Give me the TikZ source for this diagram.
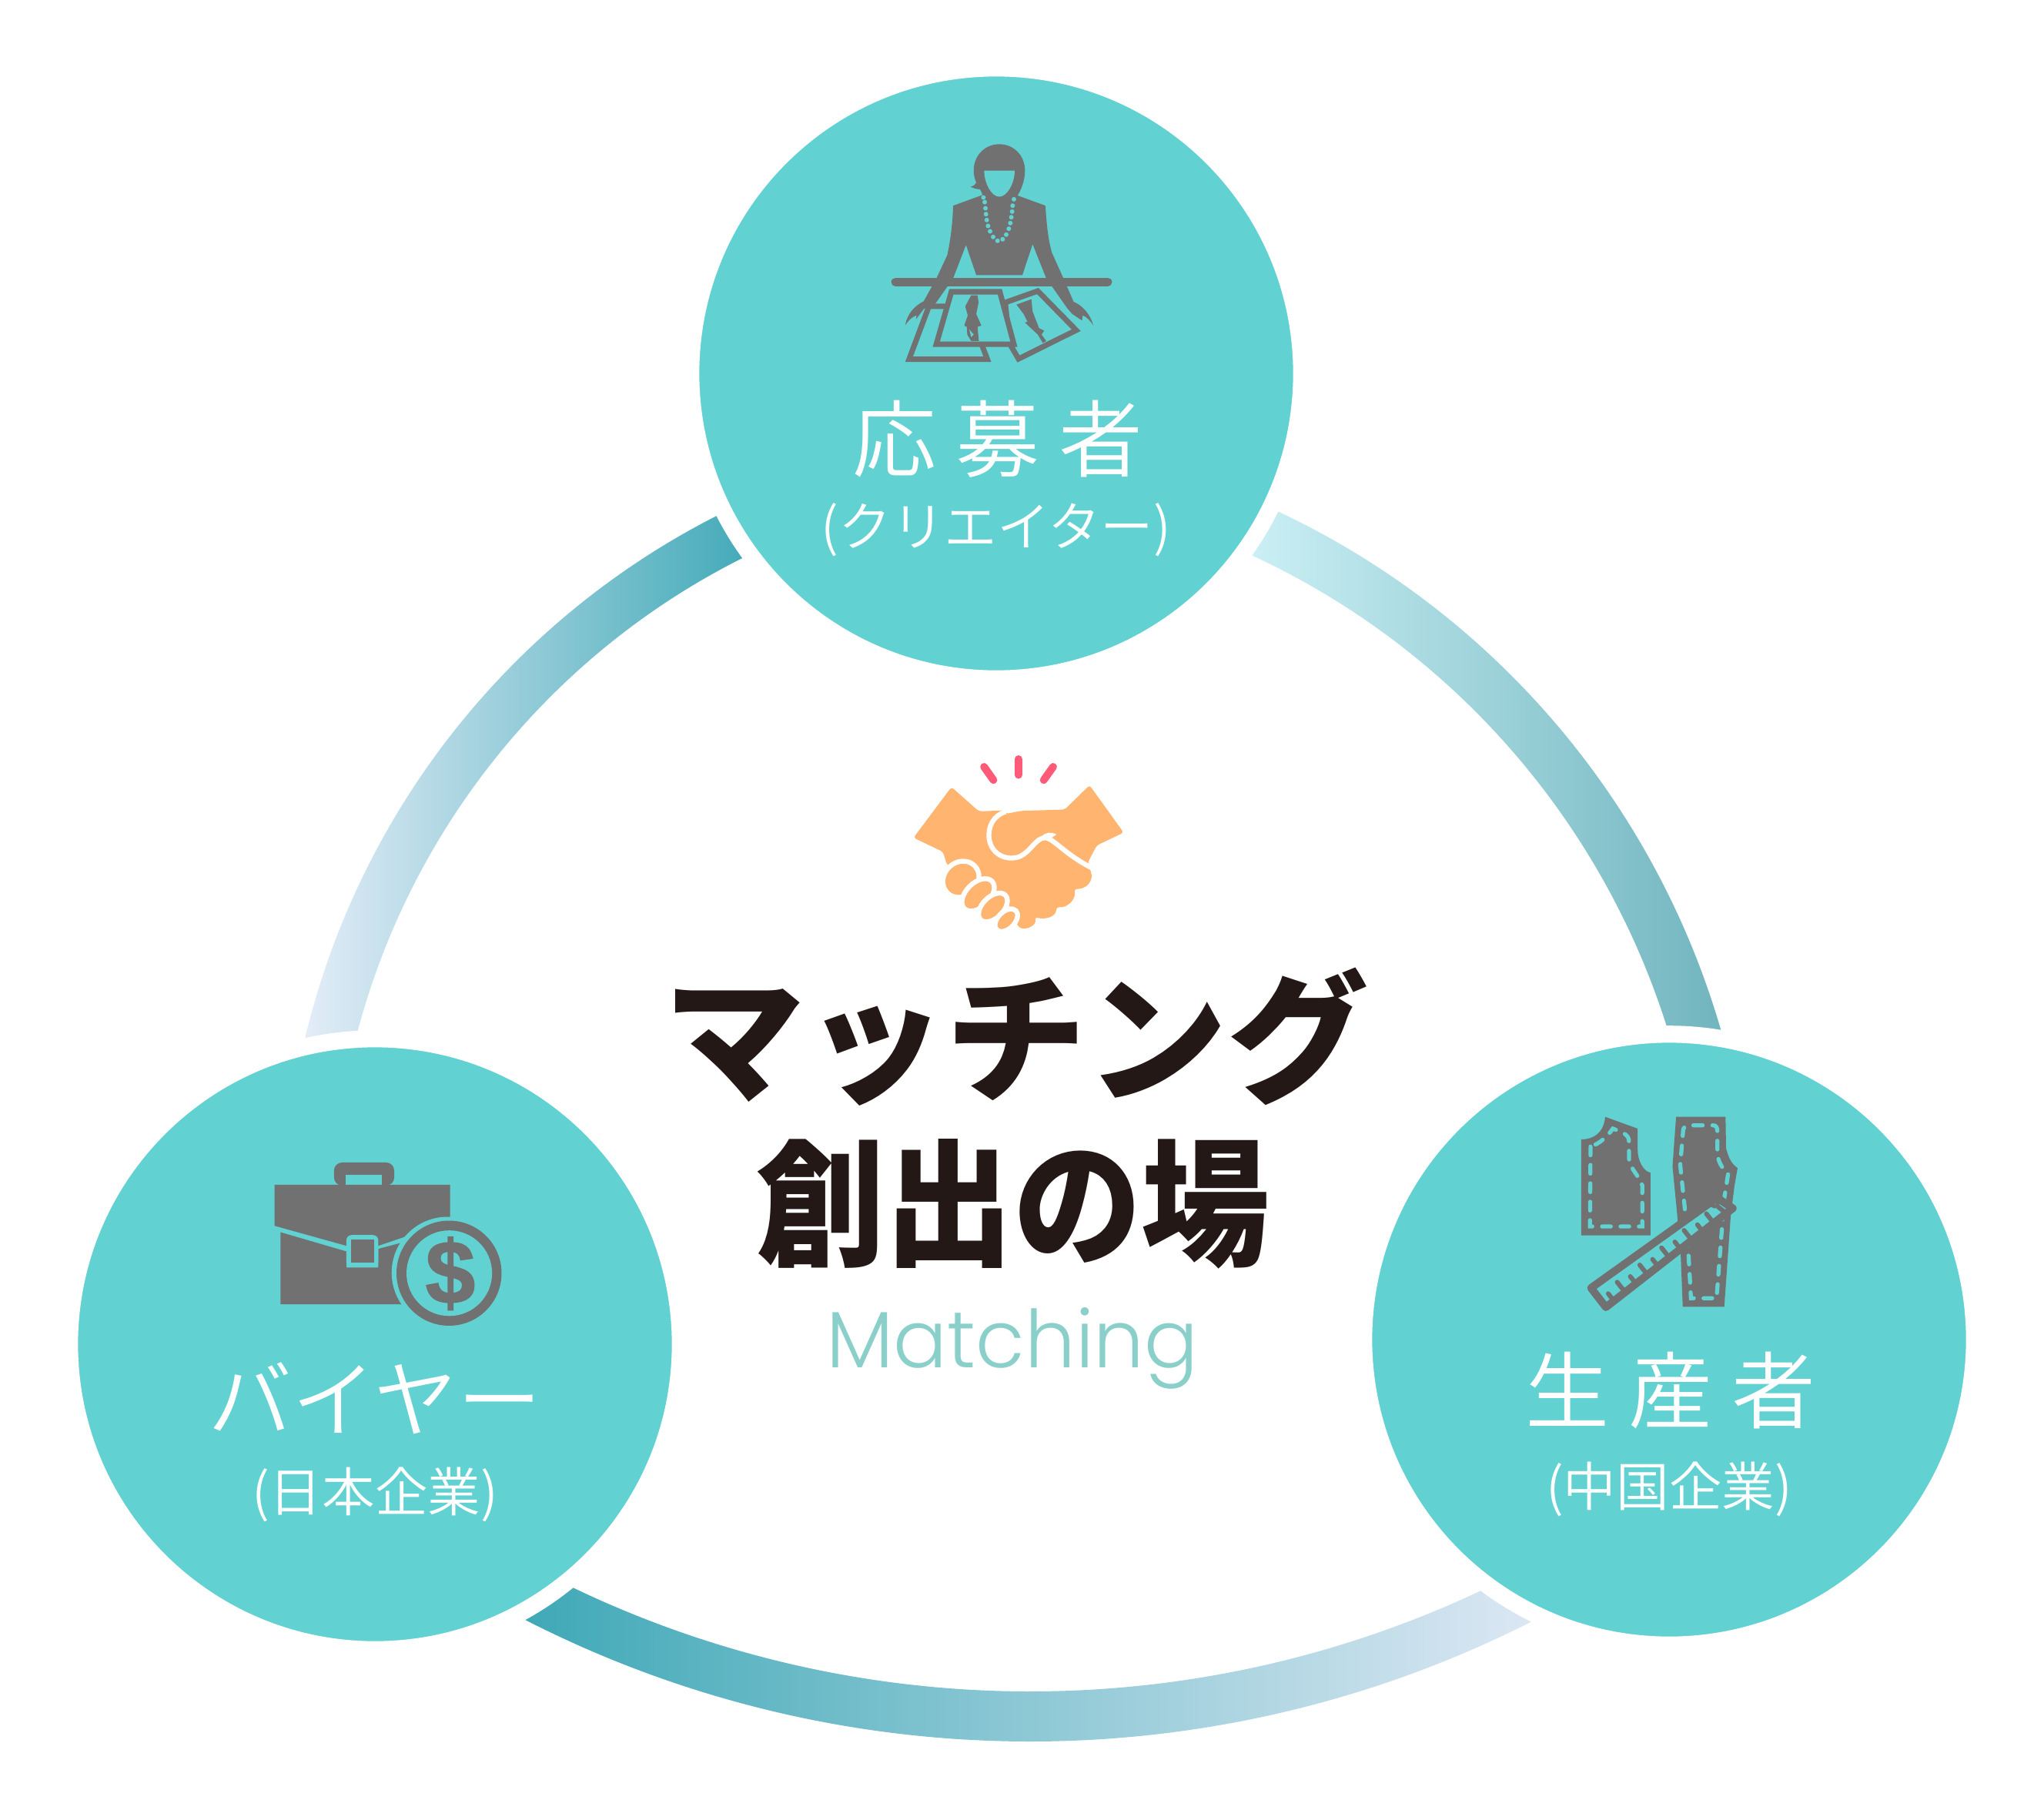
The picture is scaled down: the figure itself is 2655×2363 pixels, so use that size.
\documentclass[tikz,border=0pt]{standalone}
\usepackage{fontspec}
\newfontfamily\cjklabel[LetterSpace=23]{Noto Sans CJK JP DemiLight}
\newfontfamily\cjksmall{Noto Sans CJK JP DemiLight}
\newfontfamily\cjktitle{Noto Sans CJK JP Black}
\newfontfamily\cjknarrow[FakeStretch=0.93]{Noto Sans CJK JP Black}
\newfontfamily\latintitle{Poppins Light}
\newfontfamily\dollarfont[BoldFeatures={FakeBold=1.5}]{Liberation Sans}
\definecolor{discteal}{HTML}{61D1D2}
\definecolor{icongray}{HTML}{717171}
\definecolor{handorange}{HTML}{FFB570}
\definecolor{sparkpink}{HTML}{FF5A78}
\definecolor{titleblack}{HTML}{231815}
\definecolor{subteal}{HTML}{8BCFCB}
\definecolor{arcdark}{HTML}{3EA8B6}
\definecolor{arcpale}{HTML}{E6EEF9}
\definecolor{arcaqua}{HTML}{CDF1F6}
\definecolor{arcgrey}{HTML}{6EB3BD}
\definecolor{arcmist}{HTML}{DDE8F4}
\tikzset{
  disc/.style={circle,fill=discteal,draw=white,line width=6.3pt,minimum size=7.93cm,inner sep=0pt,outer sep=0pt},
  biglabel/.style={white,font=\cjklabel\fontsize{31}{31}\selectfont,inner sep=0pt},
  widelabel/.style={white,font=\cjksmall\fontsize{31}{31}\selectfont,inner sep=0pt},
  smalllabel/.style={white,font=\cjksmall\fontsize{19.5}{19.5}\selectfont,inner sep=0pt},
  paper/.style={draw=icongray,fill=discteal,line width=2pt,miter limit=10},
  stitch/.style={draw=discteal,line width=1.5pt,line cap=round,dash pattern=on 3.2pt off 3.6pt},
}
\begin{document}
\begin{tikzpicture}[x=0.01cm,y=-0.01cm]
\useasboundingbox (0,0) rectangle (2655,2363);
  \begin{scope}
    \clip (1398,1588) ++(190:1030) arc[start angle=190,end angle=247,radius=1030]
      -- ([shift={(247:966)}]1398,1588) arc[start angle=247,end angle=190,radius=966] -- cycle;
    \shade[left color=arcpale,right color=arcdark] (385,660) rectangle (990,1370);
  \end{scope}
  \begin{scope}
    \clip (1202,1638) ++(-68:1076) arc[start angle=-68,end angle=-12,radius=1076]
      -- ([shift={(-12:1010)}]1202,1638) arc[start angle=-12,end angle=-68,radius=1010] -- cycle;
    \shade[left color=arcaqua,right color=arcgrey] (1610,650) rectangle (2255,1360);
  \end{scope}
  \begin{scope}
    \clip (1338,822) ++(120:1440) arc[start angle=120,end angle=60,radius=1440]
      -- ([shift={(60:1375)}]1338,822) arc[start angle=60,end angle=120,radius=1375] -- cycle;
    \shade[left color=arcdark,right color=arcmist] (670,2040) rectangle (2006,2280);
  \end{scope}
  \node[disc] (c1) at (1294,485) {};
  \node[disc] (c2) at (487,1746) {};
  \node[disc] (c3) at (2168,1740) {};
  \node[biglabel] (l1) at (1296,570) {応募者};
  \node[smalllabel] (s1) at (1294,688) {(クリエイター)};
  \node[widelabel] (l2) at (487,1816) {バイヤー};
  \node[smalllabel] (s2) at (487,1941) {(日本企業)};
  \node[biglabel] (l3) at (2170,1806) {生産者};
  \node[smalllabel] (s3) at (2168,1934) {(中国企業)};
  \node[titleblack,font=\cjktitle\fontsize{52}{52}\selectfont,inner sep=0pt] (t1) at (1320,1347) {マッチング};
  \node[titleblack,font=\cjknarrow\fontsize{51}{51}\selectfont,inner sep=0pt] (t2) at (1316,1564) {創出の場};
  \node[subteal,font=\latintitle\fontsize{29.5}{29.5}\selectfont,inner sep=0pt,anchor=base] (t3) at (1315,1776) {Matching};
  \begin{scope}[shift={(1100,160)},x=0.003333cm,y=-0.003333cm]
    \filldraw[paper] (385,715) -- (320,715) -- (243,921) -- (548,921) -- (525,860) -- cycle;
    \filldraw[paper] (618,700) -- (745,655) -- (895,808) -- (670,920) -- (635,860) -- cycle;
    \filldraw[paper] (408,658) -- (597,658) -- (652,863) -- (349,863) -- cycle;
    \fill[icongray] (485,672) -- (510,672) -- (514,700) -- (505,745) -- (525,790) -- (510,795) -- (515,850) -- (485,850) -- (470,825) -- (468,795) -- (458,790) -- (472,750) -- (462,715) -- cycle;
    \fill[icongray] (662,708) -- (720,687) -- (725,735) -- (750,800) -- (770,810) -- (760,825) -- (778,850) -- (765,858) -- (745,825) -- (695,778) -- (705,775) -- (690,745) -- cycle;
    \fill[discteal] (478,805) -- (495,825) -- (485,835) -- cycle;
    \fill[icongray] (415,322) -- (530,280) -- (660,280) -- (775,322) .. controls (780,400) and (785,450) .. (800,505) -- (845,605) -- (885,697) .. controls (920,712) and (950,745) .. (962,790) .. controls (950,770) and (935,755) .. (920,750) -- (918,770) -- (880,745) -- (860,722) -- (778,605) -- (725,472) -- (685,593) -- (505,593) -- (465,475) -- (415,605) -- (345,705) -- (300,725) -- (270,765) -- (272,750) .. controls (255,755) and (240,770) .. (228,788) .. controls (235,745) and (265,712) .. (300,695) -- (350,605) -- (392,515) .. controls (405,450) and (412,400) .. (415,322) -- cycle;
    \draw[icongray,line width=3.2pt,line cap=round] (190,620) -- (1018,620);
    \fill[icongray] (595,82) .. controls (650,82) and (695,125) .. (695,185) .. controls (695,225) and (680,260) .. (665,285) -- (530,285) .. controls (527,270) and (523,262) .. (520,258) .. controls (510,258) and (495,255) .. (483,248) .. controls (495,245) and (502,240) .. (505,232) .. controls (498,215) and (495,200) .. (495,185) .. controls (495,125) and (540,82) .. (595,82) -- cycle;
    \fill[discteal] (536,185) -- (655,185) .. controls (655,235) and (625,287) .. (595,287) .. controls (565,287) and (536,235) .. (536,185) -- cycle;
    \foreach \bx/\by in {533/290,538/308,541/332,543/355,546/378,551/401,559/422,571/444,588/459,608/453,622/435,632/412,638/390,642/367,645/345,647/322,652/297}
      \fill[discteal] (\bx,\by) circle[radius=9];
  \end{scope}
  \begin{scope}[shift={(1150,960)},x=0.003333cm,y=-0.003333cm]
    \foreach \ax/\ay/\bx/\by in {385/108/422/160,519/78/519/140,655/108/618/160}
      \draw[sparkpink,line width=2.8pt,line cap=round] (\ax,\ay) -- (\bx,\by);
    \fill[handorange,rounded corners=1pt] (258,187) -- (365,282) -- (467,278) -- (470,292) -- (530,280) -- (700,275) -- (797,180) -- (930,365) -- (825,415) -- (790,482) -- (803,520) .. controls (808,550) and (790,585) .. (737,585) .. controls (745,625) and (710,660) .. (668,655) .. controls (665,695) and (625,705) .. (583,695) .. controls (590,725) and (555,745) .. (520,735) -- (480,640) -- (240,490) -- (225,440) -- (110,385) -- cycle;
    \draw[white,line width=1.8pt] (470,283) .. controls (420,300) and (400,340) .. (405,390) .. controls (415,450) and (470,475) .. (520,460) .. controls (570,440) and (585,385) .. (625,385) .. controls (660,390) and (700,450) .. (810,505);
    \fill[white] (610,380) .. controls (625,362) and (650,362) .. (668,372) -- (648,386) -- cycle;
    \foreach \fx/\fy/\rx/\ry in {295/547/75/66,362/608/76/47,420/657/68/41,472/707/53/33}
      \filldraw[fill=handorange,draw=white,line width=1.8pt,rotate around={45:(\fx,\fy)}] (\fx,\fy) ellipse[x radius=\rx,y radius=\ry];
  \end{scope}
  \begin{scope}[shift={(330,1480)},x=0.003333cm,y=-0.003333cm]
    \fill[icongray,rounded corners=3pt] (312,180) -- (312,90) -- (547,90) -- (547,180) -- cycle;
    \fill[discteal] (358,137) rectangle (500,180);
    \fill[icongray] (80,177) -- (765,177) -- (765,320) -- (485,415) -- (360,415) -- (80,337) -- cycle;
    \fill[icongray] (103,362) -- (360,437) -- (360,500) -- (485,500) -- (485,427) -- (700,370) -- (700,643) -- (103,643) -- cycle;
    \fill[discteal,rounded corners=2pt] (360,373) rectangle (485,497);
    \fill[icongray] (378,390) rectangle (468,480);
    \fill[discteal] (755,520) circle[radius=218];
    \fill[icongray] (761,522) circle[radius=205];
    \fill[discteal] (762,522) circle[radius=167];
    \node[icongray,font=\dollarfont\bfseries\fontsize{33}{33}\selectfont,inner sep=0pt] (dollar) at (766,523) {\$};
  \end{scope}
  \begin{scope}[shift={(2030,1430)},x=0.003333cm,y=-0.003333cm]
    \fill[icongray] (72,150) .. controls (120,150) and (160,125) .. (165,62) -- (292,108) -- (292,190) .. controls (292,235) and (315,275) .. (342,280) -- (342,525) -- (72,525) -- cycle;
    \draw[stitch] (108,178) -- (106,490) -- (310,490) -- (310,330) .. controls (300,295) and (265,270) .. (258,225) -- (258,160) .. controls (260,130) and (230,122) .. (195,108) .. controls (180,130) and (150,165) .. (108,178);
    \fill[icongray] (442,62) -- (635,62) -- (637,185) .. controls (650,235) and (665,250) .. (682,262) -- (670,330) -- (655,450) -- (630,803) -- (468,803) -- (460,600) -- (445,430) -- (428,255) -- cycle;
    \draw[stitch] (512,95) -- (585,95) .. controls (600,95) and (603,105) .. (603,120) -- (603,210) .. controls (610,250) and (630,270) .. (645,285) -- (630,380) -- (600,770) -- (500,770) -- (490,590) -- (475,410) -- (458,250) -- (470,110) .. controls (475,95) and (490,95) .. (512,95);
    \filldraw[draw=icongray,fill=discteal,line width=2.85pt,line join=round] (110,730) -- (168,805) -- (663,419) -- (602,378) -- cycle;
    \foreach \tx/\ty/\tl in {177/752/36,212/707/50,263/685/36,300/640/50,350/618/36,385/573/50,437/550/36,473/505/50,525/483/36,560/440/50}
      \draw[icongray,line width=1.7pt,line cap=round] (\tx,\ty) -- ++({.618*\tl},{.786*\tl});
    \draw[icongray,line width=1.3pt] (592,398) circle[radius=14];
    \draw[icongray,line width=1.7pt] (604,412) -- (630,432);
  \end{scope}
\end{tikzpicture}
\end{document}
